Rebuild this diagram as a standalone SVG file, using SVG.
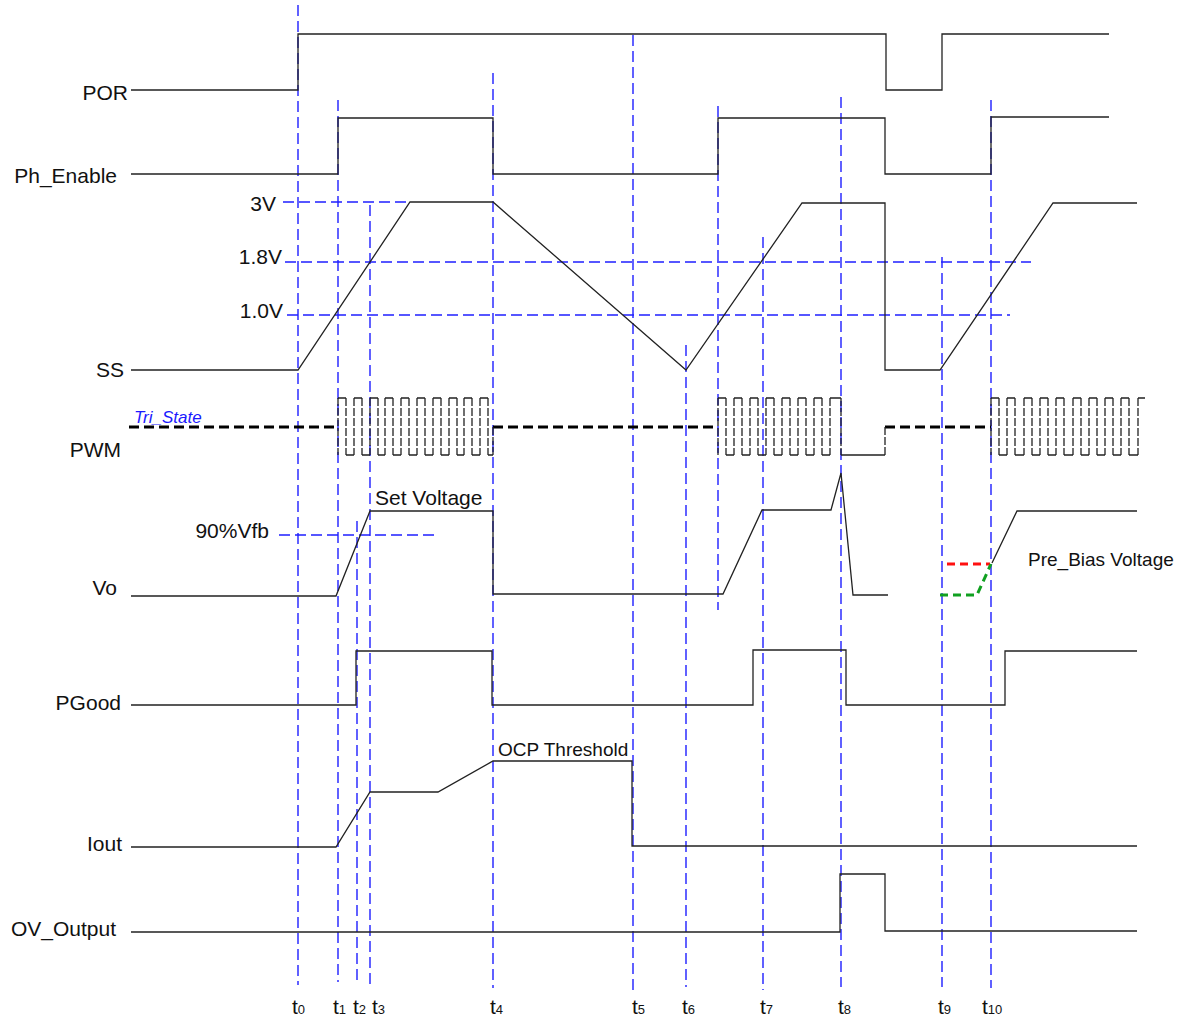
<svg xmlns="http://www.w3.org/2000/svg" width="1179" height="1017" viewBox="0 0 1179 1017">
<style>
.lbl{font-family:"Liberation Sans",Arial,sans-serif;font-size:21px;fill:#111}
.lbl2{font-family:"Liberation Sans",Arial,sans-serif;font-size:19px;fill:#111}
.tl{font-family:"Liberation Sans",Arial,sans-serif;font-size:21px;fill:#111}
.sub{font-size:13px}
.sig{fill:none;stroke:#222;stroke-width:1.3}
.grid{fill:none;stroke:#1f1fff;stroke-width:1.4;stroke-dasharray:11,5}
.tri{fill:none;stroke:#000;stroke-width:3;stroke-dasharray:10,5}
.pwmh{fill:none;stroke:#222;stroke-width:1.3}
.pwmv{fill:none;stroke:#222;stroke-width:1.3;stroke-dasharray:8,2}
</style>
<rect width="1179" height="1017" fill="#fff"/>
<g id="connectors">
<g id="gridlines">
<path class="grid" d="M298 5V985M338 100V982M357 521V982M370 205V986M493 73V988M633 35V990M686 345V987M718 106V610M763 237V990M841 97V987M942 257V987M991 100V988"/>
<path class="grid" d="M283 202H410M285 262H1031M287 315H1010M279 535H439"/>
</g>
<path id="por" class="sig" d="M131 90H298V34H886V90H942V34H1109"/>
<path id="ph_enable" class="sig" d="M131 174H338V118H493V174H718V118H885V174H991V117H1109"/>
<path id="ss" class="sig" d="M131 370H298L410 202H493L686 370L802 203H885V370H940L1053 203H1137"/>
<g id="pwm">
<path class="tri" d="M129 427H338M493 427H718M885 427H991"/>
<path class="pwmh" d="M338 398H346M354 398H362M370 398H378M385 398H393M401 398H409M417 398H425M433 398H441M449 398H457M464 398H472M480 398H488M346 455H354M362 455H370M378 455H385M393 455H401M409 455H417M425 455H433M441 455H449M457 455H464M472 455H480M488 455H493"/>
<path class="pwmv" d="M338 398V455M346 398V455M354 398V455M362 398V455M370 398V455M378 398V455M385 398V455M393 398V455M401 398V455M409 398V455M417 398V455M425 398V455M433 398V455M441 398V455M449 398V455M457 398V455M464 398V455M472 398V455M480 398V455M488 398V455M493 427V455"/>
<path class="pwmh" d="M718 398H726M734 398H742M750 398H758M766 398H774M782 398H790M798 398H806M814 398H822M830 398H841M726 455H734M742 455H750M758 455H766M774 455H782M790 455H798M806 455H814M822 455H830M841 455H885"/>
<path class="pwmv" d="M718 398V455M726 398V455M734 398V455M742 398V455M750 398V455M758 398V455M766 398V455M774 398V455M782 398V455M790 398V455M798 398V455M806 398V455M814 398V455M822 398V455M830 398V455M841 398V455M885 427V455"/>
<path class="pwmh" d="M991 398H999M1007 398H1015M1024 398H1032M1040 398H1048M1056 398H1064M1073 398H1081M1089 398H1097M1105 398H1113M1121 398H1129M1138 398H1145M999 455H1007M1015 455H1024M1032 455H1040M1048 455H1056M1064 455H1073M1081 455H1089M1097 455H1105M1113 455H1121M1129 455H1138"/>
<path class="pwmv" d="M991 398V455M999 398V455M1007 398V455M1015 398V455M1024 398V455M1032 398V455M1040 398V455M1048 398V455M1056 398V455M1064 398V455M1073 398V455M1081 398V455M1089 398V455M1097 398V455M1105 398V455M1113 398V455M1121 398V455M1129 398V455M1138 398V455"/>
</g>
<g id="vo">
<path class="sig" d="M131 596H336L370 511H493V594H723L762 510H831L841 473L853 595H888"/>
<path class="sig" d="M992 563L1017 511H1137"/>
<path fill="none" stroke="#ff1010" stroke-width="3" stroke-dasharray="8,5" d="M947 564H990"/>
<path fill="none" stroke="#10a020" stroke-width="3" stroke-dasharray="8,5" d="M940 595H977L991 564"/>
</g>
<path id="pgood" class="sig" d="M131 705H356V651H492V705H753V650H846V705H1005V651H1137"/>
<path id="iout" class="sig" d="M131 847H336L370 792H438L493 761H632V846H1137"/>
<path id="ov_output" class="sig" d="M131 932H840V874H885V931H1137"/>
</g>
<g id="labels">
<text class="lbl" x="128" y="100" text-anchor="end">POR</text>
<text class="lbl" x="117" y="183" text-anchor="end">Ph_Enable</text>
<text class="lbl" x="276" y="211" text-anchor="end">3V</text>
<text class="lbl" x="282" y="264" text-anchor="end">1.8V</text>
<text class="lbl" x="283" y="318" text-anchor="end">1.0V</text>
<text class="lbl" x="124" y="377" text-anchor="end">SS</text>
<text x="134" y="423" font-family="Liberation Sans, Arial, sans-serif" font-size="17" font-style="italic" fill="#1a1aff">Tri_State</text>
<text class="lbl" x="121" y="457" text-anchor="end">PWM</text>
<text class="lbl" x="375" y="505">Set Voltage</text>
<text class="lbl" x="269" y="538" text-anchor="end">90%Vfb</text>
<text class="lbl" x="117" y="595" text-anchor="end">Vo</text>
<text class="lbl2" x="1028" y="566">Pre_Bias Voltage</text>
<text class="lbl" x="121" y="710" text-anchor="end">PGood</text>
<text class="lbl2" x="498" y="756">OCP Threshold</text>
<text class="lbl" x="122" y="851" text-anchor="end">Iout</text>
<text class="lbl" x="116" y="936" text-anchor="end">OV_Output</text>
</g>
<g id="time-labels">
<text class="tl" x="292" y="1014">t<tspan class="sub">0</tspan></text>
<text class="tl" x="333" y="1014">t<tspan class="sub">1</tspan></text>
<text class="tl" x="353" y="1014">t<tspan class="sub">2</tspan></text>
<text class="tl" x="372" y="1014">t<tspan class="sub">3</tspan></text>
<text class="tl" x="490" y="1014">t<tspan class="sub">4</tspan></text>
<text class="tl" x="632" y="1014">t<tspan class="sub">5</tspan></text>
<text class="tl" x="682" y="1014">t<tspan class="sub">6</tspan></text>
<text class="tl" x="760" y="1014">t<tspan class="sub">7</tspan></text>
<text class="tl" x="838" y="1014">t<tspan class="sub">8</tspan></text>
<text class="tl" x="938" y="1014">t<tspan class="sub">9</tspan></text>
<text class="tl" x="982" y="1014">t<tspan class="sub">10</tspan></text>
</g>
</svg>
